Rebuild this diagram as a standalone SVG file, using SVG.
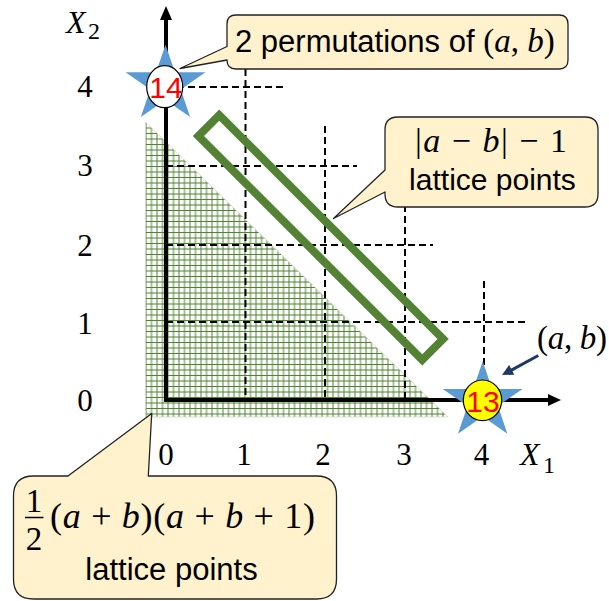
<svg xmlns="http://www.w3.org/2000/svg" width="609" height="601" viewBox="0 0 609 601">
<style>
.s{font-family:"Liberation Sans",Arial,sans-serif;fill:#000}
.m{font-family:"Liberation Serif","Times New Roman",serif;fill:#000}
.i{font-style:italic}
.dash{stroke:#000;stroke-width:2;stroke-dasharray:7 4;fill:none}
.callout{fill:#FFF2CC;stroke:#222;stroke-width:1.3;stroke-linejoin:round}
.star{fill:#5B9BD5}
.num{font-family:"Liberation Sans",Arial,sans-serif;font-size:30px;fill:#FF0000;text-anchor:middle}
.tick{font-family:"Liberation Serif","Times New Roman",serif;font-size:31px;text-anchor:middle}
</style>
<defs>
<pattern id="grid" patternUnits="userSpaceOnUse" x="145.5" y="122" width="11" height="11">
<rect width="11" height="11" fill="#fff"/>
<path d="M0.5,0 V11 M6,0 V11 M0,0.5 H11 M0,6 H11" stroke="#4f8430" stroke-width="1"/>
</pattern>
<path id="star5" d="M0,-40 L9.43,-12.36 L39.94,-12.36 L15.26,4.72 L24.69,32.36 L0,15.28 L-24.69,32.36 L-15.26,4.72 L-39.94,-12.36 L-9.43,-12.36 Z"/>
</defs>
<rect width="609" height="601" fill="#fff"/>

<g id="region">
<polygon points="145.5,122 448,417 145.5,417" fill="url(#grid)" stroke="#cfd8c8" stroke-width="0.8"/>
</g>

<g id="gridlines">
<line class="dash" x1="166" y1="87" x2="287" y2="87"/>
<line class="dash" x1="166" y1="166" x2="357" y2="166"/>
<line class="dash" x1="166" y1="245" x2="433" y2="245"/>
<line class="dash" x1="166" y1="322" x2="527" y2="322"/>
<line class="dash" x1="245.5" y1="47" x2="245.5" y2="400"/>
<line class="dash" x1="325" y1="126" x2="325" y2="400"/>
<line class="dash" x1="405" y1="205" x2="405" y2="400"/>
<line class="dash" x1="484" y1="281" x2="484" y2="400"/>
</g>

<g id="band">
<rect x="-158.3" y="-14.75" width="316.6" height="29.5" transform="translate(320.75,237.5) rotate(45)" fill="none" stroke="#548235" stroke-width="8"/>
</g>

<g id="axes">
<path d="M166,19 V400 H549" fill="none" stroke="#000" stroke-width="4" stroke-linejoin="miter"/>
<polygon points="166,6 160,20 172,20" fill="#000"/>
<polygon points="561,400 548,394 548,406" fill="#000"/>
</g>

<g id="labels">
<text class="m i" x="66" y="33" font-size="32">X</text>
<text class="m" x="88" y="39" font-size="24">2</text>
<text class="m i" x="520" y="465" font-size="32">X</text>
<text class="m" x="543" y="473" font-size="24">1</text>
<text class="tick" x="85" y="97">4</text>
<text class="tick" x="85" y="176">3</text>
<text class="tick" x="85" y="256">2</text>
<text class="tick" x="85" y="334">1</text>
<text class="tick" x="85" y="411">0</text>
<text class="tick" x="166" y="465">0</text>
<text class="tick" x="244" y="465">1</text>
<text class="tick" x="323" y="465">2</text>
<text class="tick" x="404" y="465">3</text>
<text class="tick" x="481.5" y="465">4</text>
<text class="m" x="537" y="349" font-size="33" textLength="70" lengthAdjust="spacing">(<tspan class="i">a</tspan>, <tspan class="i">b</tspan>)</text>
</g>

<g id="star14">
<use href="#star5" class="star" transform="translate(165.5,84.7)"/>
<ellipse cx="164.7" cy="86.7" rx="18" ry="21" fill="#fff" stroke="#000" stroke-width="1.2"/>
<text class="num" x="166" y="97.5">14</text>
</g>

<g id="star13">
<use href="#star5" class="star" transform="translate(482.7,401.3)"/>
<ellipse cx="482.5" cy="400.3" rx="19.2" ry="20.3" fill="#FFFF00" stroke="#000" stroke-width="1.2"/>
<text class="num" x="483" y="411.5">13</text>
</g>

<g id="connectors">
<line x1="538.3" y1="355.5" x2="511" y2="370.4" stroke="#1F3864" stroke-width="3"/>
<polygon points="502,375 514.3,374.8 509.1,365" fill="#1F3864"/>
</g>

<g id="callout-permutations">
<path class="callout" d="M236,15 H559 Q568,15 568,24 V60 Q568,69 559,69 H236 Q227,69 227,60 L180,68.5 L227,46.5 V24 Q227,15 236,15 Z"/>
<text x="235" y="52" font-size="31"><tspan class="s">2 permutations of </tspan><tspan class="m" font-size="33">(<tspan class="i">a</tspan>, <tspan class="i">b</tspan>)</tspan></text>
</g>

<g id="callout-band">
<path class="callout" d="M398,117 H585 Q598,117 598,130 V194 Q598,207 585,207 H398 Q385,207 385,194 V192 L333.5,218.5 L385,170 V130 Q385,117 398,117 Z"/>
<text class="m" x="415" y="152" font-size="34" textLength="152" lengthAdjust="spacing">|<tspan class="i">a</tspan> − <tspan class="i">b</tspan>| − 1</text>
<text class="s" x="492.5" y="190" font-size="30" text-anchor="middle">lattice points</text>
</g>

<g id="callout-region">
<path class="callout" d="M33.5,476 H68 L151.7,413.5 L148.3,476 H316.5 Q336.5,476 336.5,496 V579 Q336.5,599 316.5,599 H33.5 Q13.5,599 13.5,579 V496 Q13.5,476 33.5,476 Z"/>
<text class="m" x="34" y="512" font-size="33" text-anchor="middle">1</text>
<line x1="25" y1="517.5" x2="43.5" y2="517.5" stroke="#000" stroke-width="1.5"/>
<text class="m" x="34" y="550" font-size="33" text-anchor="middle">2</text>
<text class="m" x="50" y="528" font-size="36" textLength="265" lengthAdjust="spacing">(<tspan class="i">a</tspan> + <tspan class="i">b</tspan>)(<tspan class="i">a</tspan> + <tspan class="i">b</tspan> + 1)</text>
<text class="s" x="171.5" y="580" font-size="31" text-anchor="middle">lattice points</text>
</g>
</svg>
